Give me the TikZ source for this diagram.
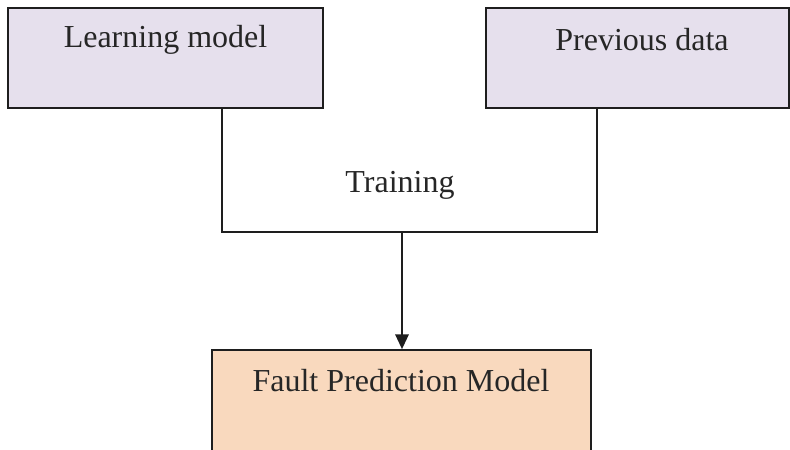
\documentclass[tikz,border=0pt]{standalone}
\usepackage{fontspec}
\setmainfont{Liberation Serif}
\usetikzlibrary{arrows.meta}
\definecolor{lav}{RGB}{230,224,237}
\definecolor{peach}{RGB}{249,217,190}
\definecolor{edge}{RGB}{30,30,30}
\tikzset{
  box/.style={draw=edge, line width=1.3pt, rectangle, inner sep=0pt},
  lbl/.style={font=\fontsize{24pt}{28pt}\selectfont, text=black!85, inner sep=0pt},
  conn/.style={draw=edge, line width=1.3pt},
}
\begin{document}
\begin{tikzpicture}[x=0.75pt,y=-0.75pt]
\useasboundingbox (0,0) rectangle (790,450);
\clip (0,0) rectangle (790,450);
\fill[white] (0,0) rectangle (790,450);
% boxes
\node[box, fill=lav, minimum width=315*0.75pt, minimum height=100*0.75pt] (lm) at (165.5,58) {};
\node[box, fill=lav, minimum width=303*0.75pt, minimum height=100*0.75pt] (pd) at (637.5,58) {};
\node[box, fill=peach, minimum width=379*0.75pt, minimum height=130*0.75pt] (fp) at (401.5,415) {};
% labels
\node[lbl] (lmt) at (165.5,40) {Learning model};
\node[lbl] (pdt) at (642,40) {Previous data};
\node[lbl] (tr) at (400,185) {Training};
\node[lbl] (fpt) at (401,381) {Fault Prediction Model};
% connectors
\coordinate (j1) at (222,232);
\coordinate (j2) at (597,232);
\coordinate (jt) at (402,232);
\draw[conn] (lm.south -| j1) -- (j1) -- (j2) -- (pd.south -| j2);
\draw[conn, -{Triangle[length=11pt,width=10pt]}] (jt) -- (fp.north -| jt);
\end{tikzpicture}
\end{document}
